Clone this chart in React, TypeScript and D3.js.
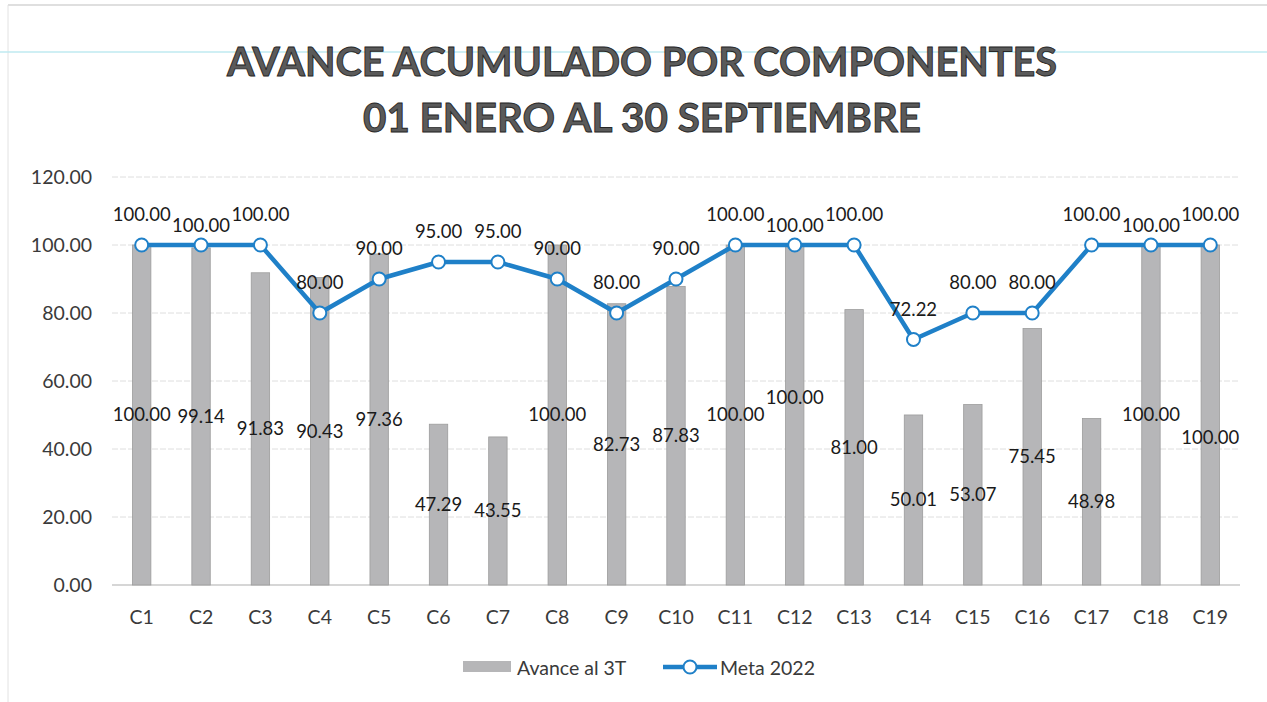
import { useEffect, useRef } from 'react'
import * as d3 from 'd3'

// chart data
const categories = ['C1', 'C2', 'C3', 'C4', 'C5', 'C6', 'C7', 'C8', 'C9', 'C10', 'C11', 'C12', 'C13', 'C14', 'C15', 'C16', 'C17', 'C18', 'C19']
const avance = [100.0, 99.14, 91.83, 90.43, 97.36, 47.29, 43.55, 100.0, 82.73, 87.83, 100.0, 100.0, 81.0, 50.01, 53.07, 75.45, 48.98, 100.0, 100.0]
const meta = [100, 100, 100, 80, 90, 95, 95, 90, 80, 90, 100, 100, 100, 72.22, 80, 80, 100, 100, 100]
const yTicks = [0, 20, 40, 60, 80, 100, 120]
const titleLines = ['AVANCE ACUMULADO POR COMPONENTES', '01 ENERO AL 30 SEPTIEMBRE']
const seriesNames = ['Avance al 3T', 'Meta 2022']

const W = 1267
const H = 702
const FONT = "Lato, 'Open Sans', sans-serif"
const BLUE = '#1f80c8'
const LABEL_SIZE = 18.5

// rough text width of a formatted number label
const textW = (s: string) => [...s].reduce((a, ch) => a + (ch === '.' ? 0.25 : 0.58), 0) * LABEL_SIZE

// Excel-like nudging of labels that would collide with their left neighbour
function nudges(labels: string[], xs: number[], ys: number[], steps: number[]) {
  const out = labels.map(() => 0)
  let hits = 0
  for (let i = 1; i < labels.length; i++) {
    const overlapX = xs[i] - xs[i - 1] < (textW(labels[i]) + textW(labels[i - 1])) / 2 + 4
    const overlapY = Math.abs(ys[i] + out[i] - (ys[i - 1] + out[i - 1])) < 14
    if (overlapX && overlapY && out[i - 1] === 0) {
      out[i] = steps[hits % steps.length]
      hits++
    }
  }
  return out
}

export default function App() {
  const ref = useRef<SVGSVGElement>(null)

  useEffect(() => {
    const svg = d3.select(ref.current)
    svg.selectAll('*').remove()

    const left = 112
    const right = 1240
    const top = 177
    const bottom = 585

    const x = d3.scaleBand<string>().domain(categories).range([left, right]).paddingInner(0.69).paddingOuter(0.345)
    const y = d3.scaleLinear().domain([0, 120]).range([bottom, top])
    const cx = (c: string) => (x(c) ?? 0) + x.bandwidth() / 2
    const xs = categories.map(cx)

    svg.append('rect').attr('width', W).attr('height', H).attr('fill', '#fff')

    // page frame + scan artefacts
    svg.append('line').attr('x1', 8).attr('x2', W).attr('y1', 5).attr('y2', 5).attr('stroke', '#d4d4d4').attr('stroke-width', 1.5)
    svg.append('line').attr('x1', 8).attr('x2', 8).attr('y1', 5).attr('y2', H).attr('stroke', '#e2e2e2').attr('stroke-width', 1)
    svg.append('line').attr('x1', 0).attr('x2', W).attr('y1', 52).attr('y2', 52).attr('stroke', '#bfeaf0').attr('stroke-width', 1.5)

    // title
    svg.append('g')
      .selectAll('text')
      .data(titleLines)
      .join('text')
      .attr('x', 642)
      .attr('y', (_, i) => 76 + i * 56)
      .attr('text-anchor', 'middle')
      .attr('font-family', FONT)
      .attr('font-weight', 'bold')
      .attr('font-size', 40)
      .attr('fill', '#5a5a5a')
      .attr('stroke', '#262626')
      .attr('stroke-width', 0.9)
      .attr('textLength', (_, i) => (i === 0 ? 830 : 558))
      .attr('lengthAdjust', 'spacingAndGlyphs')
      .text(d => d)

    // grid
    svg.append('g')
      .selectAll('line')
      .data(yTicks)
      .join('line')
      .attr('x1', left)
      .attr('x2', right)
      .attr('y1', d => y(d))
      .attr('y2', d => y(d))
      .attr('stroke', d => (d === 0 ? '#c8c8c8' : '#dedede'))
      .attr('stroke-width', d => (d === 0 ? 1.5 : 1))
      .attr('stroke-dasharray', d => (d === 0 ? null : '6 2'))

    // y axis labels
    svg.append('g')
      .selectAll('text')
      .data(yTicks)
      .join('text')
      .attr('x', 92)
      .attr('y', d => y(d))
      .attr('dy', '0.35em')
      .attr('text-anchor', 'end')
      .attr('font-family', FONT)
      .attr('font-size', 19.5)
      .attr('fill', '#3a3a3a')
      .text(d => d.toFixed(2))

    // x axis labels
    svg.append('g')
      .selectAll('text')
      .data(categories)
      .join('text')
      .attr('x', d => cx(d))
      .attr('y', 617)
      .attr('dy', '0.35em')
      .attr('text-anchor', 'middle')
      .attr('font-family', FONT)
      .attr('font-size', 19.5)
      .attr('fill', '#3a3a3a')
      .text(d => d)

    // bars
    svg.append('g')
      .selectAll('rect')
      .data(avance)
      .join('rect')
      .attr('x', (_, i) => x(categories[i]) ?? 0)
      .attr('y', d => y(d))
      .attr('width', x.bandwidth())
      .attr('height', d => y(0) - y(d))
      .attr('fill', '#b6b6b8')
      .attr('stroke', '#9c9c9c')
      .attr('stroke-width', 0.8)

    // bar labels, centred in the bar
    const barText = avance.map(d => d.toFixed(2))
    const barY = avance.map(d => y(d / 2))
    const barNudge = nudges(barText, xs, barY, [-17, 23])
    svg.append('g')
      .selectAll('text')
      .data(barText)
      .join('text')
      .attr('x', (_, i) => xs[i])
      .attr('y', (_, i) => barY[i] + barNudge[i])
      .attr('dy', '0.35em')
      .attr('text-anchor', 'middle')
      .attr('font-family', FONT)
      .attr('font-size', LABEL_SIZE)
      .attr('fill', '#1a1a1a')
      .text(d => d)

    // meta line
    const line = d3.line<number>().x((_, i) => xs[i]).y(d => y(d))
    svg.append('path')
      .datum(meta)
      .attr('d', line)
      .attr('fill', 'none')
      .attr('stroke', BLUE)
      .attr('stroke-width', 4.5)
      .attr('stroke-linejoin', 'round')

    svg.append('g')
      .selectAll('circle')
      .data(meta)
      .join('circle')
      .attr('cx', (_, i) => xs[i])
      .attr('cy', d => y(d))
      .attr('r', 6.5)
      .attr('fill', '#fff')
      .attr('stroke', BLUE)
      .attr('stroke-width', 2)

    const metaText = meta.map(d => d.toFixed(2))
    const metaY = meta.map(d => y(d) - 30)
    const metaNudge = nudges(metaText, xs, metaY, [11])
    svg.append('g')
      .selectAll('text')
      .data(metaText)
      .join('text')
      .attr('x', (_, i) => xs[i])
      .attr('y', (_, i) => metaY[i] + metaNudge[i])
      .attr('dy', '0.35em')
      .attr('text-anchor', 'middle')
      .attr('font-family', FONT)
      .attr('font-size', LABEL_SIZE)
      .attr('fill', '#1a1a1a')
      .text(d => d)

    // legend
    const lg = svg.append('g').attr('font-family', FONT).attr('font-size', 19.5).attr('fill', '#3a3a3a')
    lg.append('rect').attr('x', 463).attr('y', 661).attr('width', 48).attr('height', 11).attr('fill', '#b6b6b8')
    lg.append('text').attr('x', 517).attr('y', 668).attr('dy', '0.35em').text(seriesNames[0])
    lg.append('line').attr('x1', 663).attr('x2', 717).attr('y1', 667).attr('y2', 667).attr('stroke', BLUE).attr('stroke-width', 4.5)
    lg.append('circle').attr('cx', 690).attr('cy', 667).attr('r', 6.5).attr('fill', '#fff').attr('stroke', BLUE).attr('stroke-width', 2)
    lg.append('text').attr('x', 720).attr('y', 668).attr('dy', '0.35em').text(seriesNames[1])
  }, [])

  return (
    <svg
      ref={ref}
      width={W}
      height={H}
      viewBox={`0 0 ${W} ${H}`}
      style={{ position: 'absolute', left: 0, top: 0, display: 'block' }}
    />
  )
}
